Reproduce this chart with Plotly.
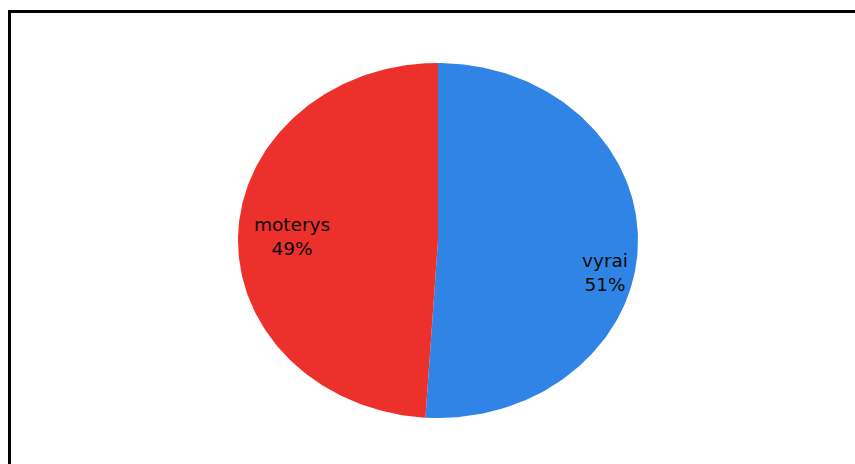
import numpy as np
import plotly.graph_objects as go

# Gender split
labels = ["vyrai", "moterys"]
values = [51, 49]
colors = ["#2F84E6", "#EC302C"]

# Label anchor points inside each slice (unit-ellipse coordinates)
label_xy = [(0.835, -0.18), (-0.73, 0.02)]

W, H = 855, 464
cx_px, cy_px = 438, 240.5
rx_px, ry_px = 200, 177.5

total = float(sum(values))
fig = go.Figure()

start = 0.0  # degrees clockwise from 12 o'clock
for lab, val, col, (lx, ly) in zip(labels, values, colors, label_xy):
    sweep = 360.0 * val / total
    ang = np.radians(np.linspace(start, start + sweep, 200))
    xs = np.concatenate([[0.0], np.sin(ang), [0.0]])
    ys = np.concatenate([[0.0], np.cos(ang), [0.0]])
    fig.add_trace(go.Scatter(
        x=xs, y=ys, mode="lines", fill="toself", fillcolor=col,
        line=dict(width=0, color=col), hoverinfo="text",
        hovertext=f"{lab}: {val}", showlegend=False,
    ))
    pct = round(100 * val / total)
    fig.add_annotation(
        x=lx, y=ly, xref="x", yref="y", showarrow=False,
        text=f"{lab}<br>{pct}%", align="center",
        font=dict(family="DejaVu Sans", size=18.5, color="#0A0A0A"),
    )
    start += sweep

# Frame around the chart area
fig.add_shape(type="rect", xref="paper", yref="paper",
              x0=9.5 / W, x1=1.05, y0=-0.05, y1=1 - 11.5 / H,
              line=dict(color="black", width=3), fillcolor="rgba(0,0,0,0)")

fig.update_xaxes(range=[-cx_px / rx_px, (W - cx_px) / rx_px],
                 visible=False, fixedrange=True)
fig.update_yaxes(range=[-(H - cy_px) / ry_px, cy_px / ry_px],
                 visible=False, fixedrange=True)
fig.update_layout(
    width=W, height=H, margin=dict(l=0, r=0, t=0, b=0),
    paper_bgcolor="white", plot_bgcolor="white",
)

fig.write_html("out.html")
